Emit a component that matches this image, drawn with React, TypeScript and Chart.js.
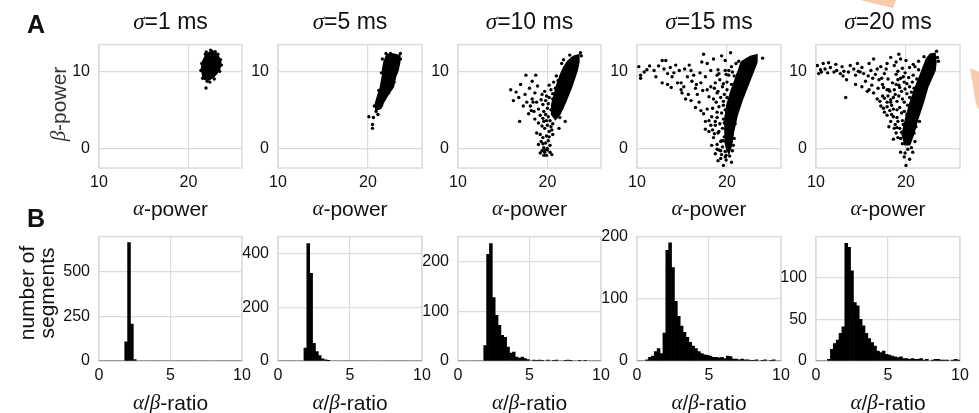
import React, { useEffect, useRef } from 'react';
import { Chart, registerables } from 'chart.js';

Chart.register(...registerables);

// ---------- data ----------
const sigmaValues = ['1', '5', '10', '15', '20'];
const alphaTicks = [10, 20];
const betaTicks = [0, 10];
const ratioTicks = [0, 5, 10];
const countTicks = [[0, 250, 500], [0, 200, 400], [0, 100, 200], [0, 100, 200], [0, 50, 100]];
const countMax = [693, 463, 251, 200, 149];
const binWidth = 0.2; // histogram bins of the alpha/beta ratio, starting at 0

const hist1 = [
  0, 0, 0, 0, 0, 0, 0, 0, 0, 107,
  660, 206, 8, 0, 0, 0, 0, 0, 0, 0,
  0, 0, 0, 0, 0, 0, 0, 0, 0, 0,
  0, 0, 0, 0, 0, 0, 0, 0, 0, 0,
  0, 0, 0, 0, 0, 0, 0, 0, 0, 0,
];
const hist2 = [
  0, 0, 0, 0, 0, 0, 0, 0, 0, 48,
  437, 326, 66, 35, 20, 8, 4, 1, 0, 0,
  0, 0, 0, 0, 0, 0, 0, 0, 0, 0,
  0, 0, 0, 0, 0, 0, 0, 0, 0, 0,
  0, 0, 0, 0, 0, 0, 0, 0, 0, 0,
];
const hist3 = [
  0, 0, 0, 0, 0, 0, 0, 0, 0, 31,
  215, 237, 128, 92, 72, 52, 48, 28, 16, 18,
  8, 6, 8, 5, 3, 0, 2, 1, 2, 1,
  0, 2, 0, 1, 2, 0, 0, 1, 2, 1,
  0, 0, 1, 0, 1, 0, 0, 0, 0, 0,
];
const hist4 = [
  0, 0, 0, 2, 6, 8, 15, 20, 12, 45,
  178, 190, 150, 96, 72, 56, 46, 38, 30, 24,
  20, 15, 12, 10, 9, 8, 6, 6, 5, 6,
  4, 8, 7, 3, 3, 2, 3, 2, 2, 1,
  1, 2, 0, 1, 2, 0, 1, 2, 0, 0,
];
const hist5 = [
  0, 0, 0, 0, 2, 14, 21, 25, 33, 41,
  141, 136, 108, 70, 66, 50, 42, 33, 27, 22,
  18, 12, 10, 12, 8, 7, 6, 5, 4, 5,
  3, 3, 2, 3, 2, 2, 3, 1, 2, 0,
  1, 2, 2, 1, 1, 1, 0, 1, 2, 1,
];

// dense cores of the scatter clouds (outline of the solid black region), [alpha, beta]
const core1 = [[22.3, 12.4], [22.7, 12.6], [23.1, 12.3], [23.4, 11.8], [23.6, 11.1], [23.5, 10.4], [23.2, 9.8], [22.8, 9.3], [22.3, 8.9], [21.8, 9.0], [21.6, 9.6], [21.5, 10.4], [21.6, 11.2], [21.9, 11.9]];
const core2 = [[22.1, 12.1], [22.8, 12.2], [23.5, 12.0], [23.5, 11.2], [23.3, 10.1], [23.0, 9.2], [22.8, 8.0], [22.1, 6.8], [21.7, 6.0], [21.4, 5.2], [20.9, 5.0], [20.85, 5.8], [21.1, 6.8], [21.4, 7.9], [21.6, 9.2], [21.65, 10.2], [21.8, 11.2]];
const core3 = [[22.3, 11.3], [22.9, 11.9], [23.5, 12.1], [23.5, 11.2], [23.3, 10.1], [22.7, 8.0], [22.0, 6.0], [21.4, 4.5], [20.9, 3.8], [20.5, 4.4], [20.5, 5.6], [20.8, 7.0], [21.1, 8.3], [21.5, 9.6], [21.9, 10.6]];
const core4 = [[21.6, 11.2], [22.6, 11.9], [23.3, 12.1], [23.3, 11.2], [22.9, 10.0], [22.4, 8.5], [21.7, 6.4], [21.1, 4.3], [20.7, 2.2], [20.5, 0.5], [20.2, -0.6], [19.9, 0.3], [19.8, 2.0], [19.8, 3.8], [20.0, 5.5], [20.4, 7.2], [20.9, 8.8], [21.3, 10.1]];
const core5 = [[22.3, 11.6], [22.7, 12.2], [23.2, 12.3], [23.3, 11.2], [23.2, 10.1], [22.4, 8.0], [21.9, 6.0], [21.3, 3.9], [20.8, 1.8], [20.4, 0.5], [19.9, 0.5], [19.6, 1.8], [20.0, 3.9], [20.5, 6.0], [21.1, 8.0], [21.8, 10.1]];

// individual segments outside / around the cores, [alpha, beta]
const pts1 = [
  [21.97, 7.84], [22.1, 8.7], [22.4, 8.6], [21.7, 9.3], [23.6, 11.5], [22.5, 12.75], [23.0, 12.55], [21.5, 11.0], [23.5, 10.0], [21.9, 12.2],
  [21.4, 10.1], [23.7, 10.8], [22.0, 12.5], [23.3, 12.2], [22.9, 9.0], [21.6, 9.1],
];
const pts2 = [
  [20.1, 4.1], [20.6, 4.0], [20.5, 3.1], [20.5, 2.6], [20.9, 4.8], [21.1, 4.4], [20.7, 5.5], [21.3, 6.5], [22.3, 7.2], [23.6, 11.6],
  [21.6, 11.6], [22.0, 12.3], [23.1, 9.8], [21.0, 5.3], [21.5, 5.6], [22.5, 12.3], [21.5, 9.8], [23.6, 12.3], [22.9, 8.6], [21.2, 7.5],
];
const pts3 = [
  [15.9, 7.6], [16.2, 6.2], [16.8, 6.6], [16.9, 3.5], [17.6, 9.5], [18.7, 9.5], [17.9, 4.5], [18.1, 5.5], [18.3, 6.4], [18.4, 6.0],
  [18.8, 6.0], [19.0, 5.1], [19.2, 4.3], [18.8, 2.0], [19.2, 1.8], [19.0, 0.5], [19.4, -0.3], [19.7, -0.5], [19.9, -0.9], [20.5, -0.8],
  [19.6, 0.1], [20.1, 1.0], [19.5, 1.4], [17.3, 5.5], [18.0, 7.8], [18.6, 7.2], [19.6, 3.5], [19.7, 2.6], [20.2, 2.2], [20.7, 4.7],
  [21.0, 6.0], [17.7, 6.0], [19.9, 6.8], [20.1, 5.8], [19.8, 4.4], [20.3, 3.6], [20.0, 3.0], [19.4, 2.9], [20.4, 2.8], [20.6, 3.2],
  [19.9, 1.6], [20.3, 0.4], [19.6, -0.9], [20.0, -0.2], [19.3, 0.9], [20.6, 1.8], [19.0, 3.3], [18.5, 4.8], [19.5, 5.7], [20.4, 7.6],
  [20.7, 8.6], [21.0, 9.4], [20.2, 8.2], [19.7, 7.4], [18.9, 8.1], [21.6, 11.0], [23.8, 12.0], [22.0, 3.5], [21.3, 2.6],
  [19.4, 7.0], [19.8, 6.2], [20.2, 6.6], [20.0, 5.2], [19.6, 4.8], [20.4, 5.0], [20.1, 4.1], [19.5, 3.9], [20.6, 6.4], [20.9, 7.8],
  [21.2, 8.8], [20.6, 7.1], [19.3, 6.3], [20.8, 5.5], [19.9, 3.6], [20.5, 2.4], [20.2, 1.5], [19.8, 0.7], [20.0, 0.0], [19.7, -0.2],
  [19.2, -0.6], [20.3, -0.5], [19.5, 0.6], [18.6, 3.8], [18.2, 4.9], [17.5, 7.0], [16.5, 7.3], [17.0, 8.3], [18.3, 8.7], [21.8, 11.5],
  [22.5, 12.1], [23.7, 12.4], [21.4, 4.0], [21.6, 5.2],
];
const pts4 = [
  [10.4, 9.5], [10.4, 9.1], [10.8, 9.9], [11.4, 10.7], [11.9, 10.1], [12.1, 9.3], [12.8, 11.4], [13.2, 11.4], [13.0, 10.3], [13.4, 9.7],
  [13.7, 10.5], [13.9, 9.3], [14.3, 10.8], [14.7, 10.1], [12.8, 8.5], [13.4, 8.3], [14.5, 8.5], [14.9, 8.5], [15.2, 8.0], [15.0, 7.2],
  [15.6, 9.3], [15.8, 10.8], [16.0, 10.1], [16.1, 8.7], [16.5, 7.8], [16.7, 7.0], [17.1, 8.5], [17.2, 11.2], [17.4, 12.2], [17.8, 11.0],
  [18.2, 10.1], [17.6, 9.3], [17.8, 7.6], [16.9, 6.0], [17.1, 4.9], [17.4, 4.5], [17.8, 5.1], [17.6, 3.5], [18.2, 3.0], [18.0, 2.2],
  [16.0, 6.2], [15.4, 6.4], [14.9, 7.6], [16.5, 5.3], [18.7, 8.5], [18.9, 7.2], [18.5, 6.4], [19.1, 9.7], [19.8, 11.4], [19.8, 10.1],
  [20.2, 10.1], [18.9, 4.7], [18.7, 3.5], [19.1, 2.2], [18.9, 0.5], [19.3, -0.3], [18.7, -0.7], [19.8, -1.1], [19.6, -2.2], [19.4, 1.0],
  [18.5, 1.4], [23.96, 11.7], [19.2, 8.9], [19.5, 8.0], [19.0, 7.4], [19.7, 7.0], [19.3, 6.6], [18.8, 6.0], [19.6, 6.1], [19.1, 5.4],
  [19.8, 5.0], [19.4, 4.6], [18.9, 4.0], [19.6, 3.8], [19.2, 3.2], [19.5, 2.6], [19.0, 2.0], [19.7, 1.5], [19.3, 0.9], [19.5, 0.2],
  [19.8, -0.4], [19.1, -0.2], [20.3, -1.0], [19.9, -1.5], [20.2, 9.5], [20.6, 9.9], [20.0, 8.6], [19.9, 9.6], [18.6, 7.8], [18.4, 5.2],
  [18.7, 3.0], [19.9, 4.2], [18.9, 9.5], [20.5, 10.6], [21.0, 11.0], [19.0, 10.2],
  [20.0, 6.6], [19.6, 5.6], [20.3, 6.0], [20.0, 4.7], [20.4, 4.0], [19.7, 3.3], [20.2, 3.0], [19.9, 2.5], [20.3, 1.6], [19.6, 1.0],
  [19.9, 0.8], [20.1, 0.0], [19.4, -0.8], [19.9, -0.9], [20.6, -0.3], [20.7, 0.4], [20.0, 7.6], [20.5, 8.3], [19.6, 8.4], [20.8, 9.4],
  [21.3, 11.3], [18.2, 8.0], [18.0, 6.7], [18.3, 4.1], [18.0, 3.6], [17.6, 2.5], [18.4, 2.4], [18.6, 1.9], [18.3, 0.4], [18.9, -0.1],
  [19.3, -1.3], [19.0, -1.6], [20.5, -1.8], [17.3, 7.5], [16.6, 8.3], [16.3, 9.5], [15.3, 10.3], [14.1, 9.8], [12.4, 10.7], [11.1, 10.2],
  [10.2, 10.6], [13.8, 7.9], [15.7, 7.0], [17.0, 9.8], [18.5, 11.6], [19.4, 12.0], [20.4, 12.4], [21.2, 9.6], [21.5, 7.4], [21.0, 5.3],
  [20.9, 3.2], [20.8, 1.3],
];
const pts5 = [
  [10.15, 10.75], [10.3, 9.7], [10.8, 11.0], [11.0, 10.3], [11.6, 10.5], [12.0, 9.9], [12.3, 10.1], [12.7, 9.7], [13.3, 6.6], [13.6, 9.9],
  [13.8, 10.75], [14.2, 10.3], [14.4, 9.5], [14.6, 11.0], [15.1, 10.5], [15.3, 9.7], [15.5, 8.7], [15.9, 11.0], [16.1, 10.1], [16.3, 9.1],
  [16.4, 11.6], [16.8, 10.3], [17.0, 8.9], [17.4, 8.3], [17.6, 9.7], [17.9, 11.0], [18.1, 7.6], [18.3, 11.8], [18.7, 10.75], [19.2, 12.2],
  [19.4, 11.6], [19.1, 8.9], [16.4, 7.2], [16.8, 6.4], [17.2, 5.5], [17.6, 4.7], [17.9, 4.3], [18.3, 3.5], [18.7, 2.6], [19.1, 1.4],
  [17.9, 6.0], [17.4, 6.8], [18.3, 6.0], [18.7, 7.6], [15.1, 8.0], [15.7, 7.4], [13.4, 8.9], [14.4, 8.3], [19.8, -1.1], [20.0, -2.2],
  [19.4, -0.5], [20.75, -0.5], [20.6, 0.1], [10.5, 10.2], [11.3, 9.8], [12.9, 10.6], [13.1, 10.0], [14.9, 9.9], [16.6, 9.6], [17.2, 10.6],
  [23.5, 11.8], [23.4, 12.6], [18.9, 9.6], [19.4, 9.1], [19.9, 9.8], [20.3, 9.2], [20.8, 9.5], [18.5, 8.5], [19.2, 8.2], [19.8, 8.6],
  [20.4, 8.0], [18.2, 7.4], [18.8, 7.0], [19.5, 7.4], [20.1, 7.1], [20.6, 7.3], [17.6, 6.5], [18.3, 6.3], [19.0, 6.1], [19.6, 6.4],
  [20.2, 5.6], [17.9, 5.4], [18.6, 5.1], [19.3, 5.3], [19.8, 4.8], [18.4, 4.4], [19.0, 4.0], [19.6, 3.6], [18.8, 3.1], [19.3, 2.6],
  [19.9, 2.9], [18.9, 2.0], [19.4, 1.3], [20.1, 1.0], [21.0, 10.6], [21.4, 11.3], [20.4, 10.5], [19.6, 10.4], [18.0, 9.0], [17.5, 7.9],
  [20.9, 4.8], [21.1, 2.8],
  [19.1, 10.0], [19.7, 9.3], [20.1, 8.4], [20.7, 8.6], [20.9, 7.8], [21.2, 9.0], [19.3, 7.9], [18.9, 8.3], [19.9, 7.7], [20.4, 6.6],
  [20.8, 6.4], [19.8, 6.0], [19.2, 6.8], [18.6, 6.6], [18.0, 6.8], [17.9, 7.6], [18.4, 5.6], [19.0, 5.0], [19.5, 4.6], [20.1, 4.4],
  [20.6, 5.1], [20.3, 3.4], [19.7, 3.1], [19.1, 3.5], [18.6, 4.1], [18.2, 4.9], [19.5, 2.1], [20.0, 1.9], [20.4, 2.4], [19.0, 2.7],
  [19.6, 0.6], [20.2, -0.1], [19.9, -0.6], [20.4, -1.4], [21.0, 0.9], [20.9, 2.0], [21.5, 3.5], [21.4, 10.2], [20.8, 10.9], [20.0, 11.4],
  [18.9, 11.2], [17.8, 10.3], [17.3, 9.1], [16.9, 7.8], [16.2, 8.2], [15.8, 9.4], [14.7, 10.0], [13.0, 9.4], [12.2, 10.9], [11.4, 11.1],
  [10.6, 9.9], [15.9, 7.6], [17.1, 6.1], [17.5, 5.2], [18.1, 2.8], [18.6, 1.2], [22.0, 11.9], [23.6, 11.3],
];

const histograms = [hist1, hist2, hist3, hist4, hist5];
const cores = [core1, core2, core3, core4, core5];
const clouds = [pts1, pts2, pts3, pts4, pts5];

// ---------- layout / style ----------
const FONT = '"Liberation Sans", Arial, Helvetica, sans-serif';
const GREEK = { fontFamily: '"Liberation Serif", "DejaVu Serif", serif', fontStyle: 'italic' as const };
const GRID = '#dcdcdc';
const TICK = '#111111';
const panelLeft = [99, 278, 458, 637, 816];
const panelWidth = [143, 144, 143, 144, 144];
const rowA = { top: 40, height: 128 };
const rowB = { top: 232, height: 129 };
const YW = 50;
const XH = 34;
const PT = 14;
const PR = 16;

const framePlugin = {
  id: 'frame',
  beforeDatasetsDraw(chart: any) {
    const { ctx, chartArea: a } = chart;
    ctx.save();
    ctx.strokeStyle = GRID;
    ctx.lineWidth = 1.5;
    ctx.strokeRect(a.left, a.top, a.right - a.left, a.bottom - a.top);
    ctx.restore();
  },
};

function axis(min: number, max: number, ticks: number[], isX: boolean) {
  return {
    type: 'linear',
    min,
    max,
    offset: false,
    grid: { color: GRID, lineWidth: 1.2, drawTicks: false, offset: false },
    border: { display: false },
    ticks: {
      color: TICK,
      font: { size: 16, family: FONT },
      padding: isX ? 5 : 9,
      maxRotation: 0,
      autoSkip: false,
      callback: (v: any) => String(v),
    },
    afterBuildTicks: (s: any) => {
      s.ticks = ticks.map((v) => ({ value: v }));
    },
    afterFit: (s: any) => {
      if (isX) s.height = XH;
      else s.width = YW;
    },
  };
}

function commonOptions(x: any, y: any) {
  return {
    animation: false,
    responsive: false,
    maintainAspectRatio: false,
    devicePixelRatio: 1,
    layout: { padding: { top: PT, right: PR, left: 0, bottom: 0 } },
    plugins: { legend: { display: false }, tooltip: { enabled: false } },
    scales: { x, y },
  };
}

function scatterConfig(i: number) {
  const core = cores[i];
  return {
    type: 'scatter',
    data: {
      datasets: [
        {
          data: [...core, core[0]].map(([x, y]) => ({ x, y })),
          showLine: true,
          fill: 'shape',
          backgroundColor: '#000',
          borderColor: '#000',
          borderWidth: 2,
          pointRadius: 0,
          tension: 0,
        },
        {
          data: clouds[i].map(([x, y]) => ({ x, y })),
          backgroundColor: '#000',
          borderWidth: 0,
          pointRadius: 1.7,
        },
      ],
    },
    options: commonOptions(axis(10, 26, alphaTicks, true), axis(-2.54, 13.46, betaTicks, false)),
    plugins: [framePlugin],
  };
}

function histConfig(i: number) {
  return {
    type: 'bar',
    data: {
      datasets: [
        {
          data: histograms[i].map((c, k) => ({ x: (k + 0.5) * binWidth, y: c })),
          backgroundColor: '#000',
          borderColor: '#000',
          borderWidth: 0,
          barPercentage: 1,
          categoryPercentage: 1,
        },
      ],
    },
    options: commonOptions(axis(0, 10, ratioTicks, true), axis(0, countMax[i], countTicks[i], false)),
    plugins: [framePlugin],
  };
}

function ChartBox({ left, top, width, height, make }: any) {
  const ref = useRef<HTMLCanvasElement | null>(null);
  useEffect(() => {
    const chart = new Chart(ref.current as HTMLCanvasElement, make() as any);
    return () => chart.destroy();
  }, []);
  return (
    <canvas
      ref={ref}
      width={width}
      height={height}
      style={{ position: 'absolute', left, top, width, height }}
    />
  );
}

function Text({ cx, cy, size, children, rotate, weight, color }: any) {
  return (
    <div
      style={{
        position: 'absolute',
        left: cx - 150,
        top: cy - 20,
        width: 300,
        height: 40,
        display: 'flex',
        alignItems: 'center',
        justifyContent: 'center',
        fontFamily: FONT,
        fontSize: size,
        fontWeight: weight || 'normal',
        color: color || '#111',
        whiteSpace: 'nowrap',
        transform: rotate ? `rotate(${rotate}deg)` : undefined,
        lineHeight: 1,
      }}
    >
      {children}
    </div>
  );
}

export default function App() {
  return (
    <div
      style={{
        position: 'absolute',
        left: 0,
        top: 0,
        width: 979,
        height: 413,
        overflow: 'hidden',
        background: '#fff',
      }}
    >
      {/* watermark fragments */}
      <div style={{ position: 'absolute', left: 0, top: 0, width: 979, height: 413, background: '#f8caa9', clipPath: 'polygon(860px 0px, 896px 0px, 893px 8px)' }} />
      <div style={{ position: 'absolute', left: 0, top: 0, width: 979, height: 413, background: '#f8caa9', clipPath: 'polygon(970px 68px, 979px 72px, 979px 110px, 976px 104px)' }} />

      {sigmaValues.map((s, i) => (
        <React.Fragment key={s}>
          <ChartBox
            left={panelLeft[i] - YW}
            top={rowA.top - PT}
            width={YW + panelWidth[i] + PR}
            height={PT + rowA.height + XH}
            make={() => scatterConfig(i)}
          />
          <ChartBox
            left={panelLeft[i] - YW}
            top={rowB.top - PT}
            width={YW + panelWidth[i] + PR}
            height={PT + rowB.height + XH}
            make={() => histConfig(i)}
          />
          <Text cx={panelLeft[i] + panelWidth[i] / 2} cy={21} size={23}>
            <span style={GREEK}>σ</span>={s} ms
          </Text>
          <Text cx={panelLeft[i] + panelWidth[i] / 2} cy={208} size={21}>
            <span style={GREEK}>α</span>-power
          </Text>
          <Text cx={panelLeft[i] + panelWidth[i] / 2} cy={402} size={21}>
            <span style={GREEK}>α</span>/<span style={GREEK}>β</span>-ratio
          </Text>
        </React.Fragment>
      ))}

      <Text cx={58} cy={104} size={21} rotate={-90} color="#333">
        <span style={GREEK}>β</span>-power
      </Text>
      <Text cx={26} cy={293} size={21} rotate={-90}>number of</Text>
      <Text cx={46} cy={293} size={21} rotate={-90}>segments</Text>
      <Text cx={36} cy={24} size={25} weight="bold">A</Text>
      <Text cx={36} cy={218} size={25} weight="bold">B</Text>
    </div>
  );
}
